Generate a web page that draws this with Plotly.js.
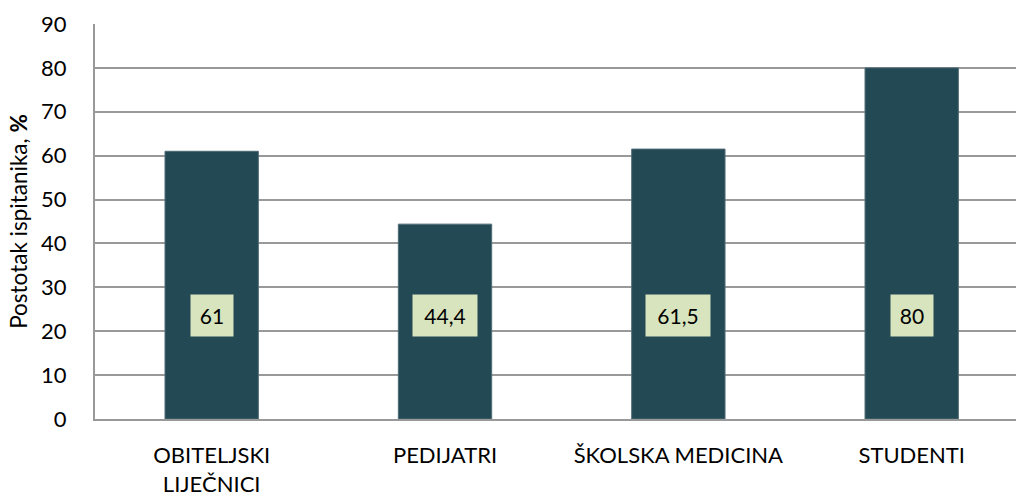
<!DOCTYPE html>
<html>
<head>
<meta charset="utf-8">
<script src="https://cdn.plot.ly/plotly-3.0.1.min.js"></script>
<style>html,body{margin:0;padding:0;background:#fff;}#chart{width:1016px;height:497px;}</style>
</head>
<body>
<div id="chart"></div>
<script>
const categories = ["OBITELJSKI<br>LIJEČNICI", "PEDIJATRI", "ŠKOLSKA MEDICINA", "STUDENTI"];
const values = [61, 44.4, 61.5, 80];
const valueLabels = ["61", "44,4", "61,5", "80"];
const yTicks = [0, 10, 20, 30, 40, 50, 60, 70, 80, 90];

const FONT = "Lato, 'Noto Sans', sans-serif";
const idx = categories.map((c, i) => i);

const trace = {
  type: "bar",
  x: idx,
  y: values,
  marker: {color: "#234954", line: {color: "#4f6c75", width: 1}},
  hoverinfo: "skip"
};

const annotations = values.map((v, i) => ({
  x: i, y: 23.5, xref: "x", yref: "y",
  text: valueLabels[i],
  showarrow: false,
  font: {family: FONT, size: 21, color: "#000"},
  bgcolor: "#d7e4bd",
  width: 20 + 11 * valueLabels[i].length,
  height: 41,
  borderpad: 0
}));

const layout = {
  width: 1016, height: 497,
  margin: {l: 95, r: 0, t: 24, b: 78},
  paper_bgcolor: "#fff", plot_bgcolor: "#fff",
  showlegend: false,
  bargap: 0.6,
  font: {family: FONT, size: 22, color: "#000"},
  xaxis: {
    range: [-0.5, 3.447],
    tickmode: "array", tickvals: idx, ticktext: categories,
    showgrid: false, zeroline: false,
    showline: true, linecolor: "#999", linewidth: 2,
    ticks: "", ticklabelstandoff: 16,
    tickfont: {family: FONT, size: 22, color: "#000"}
  },
  yaxis: {
    range: [0, 90],
    tickmode: "array", tickvals: yTicks,
    showgrid: true, gridcolor: "#999", gridwidth: 2,
    zeroline: false,
    showline: true, linecolor: "#999", linewidth: 2,
    ticks: "", ticklabelstandoff: 22,
    tickfont: {family: FONT, size: 22, color: "#000"},
    title: {text: "Postotak ispitanika, <b>%</b>", font: {family: FONT, size: 22.5, color: "#000"}, standoff: 7}
  },
  annotations: annotations
};

Plotly.newPlot("chart", [trace], layout, {displayModeBar: false, staticPlot: true});
</script>
</body>
</html>
